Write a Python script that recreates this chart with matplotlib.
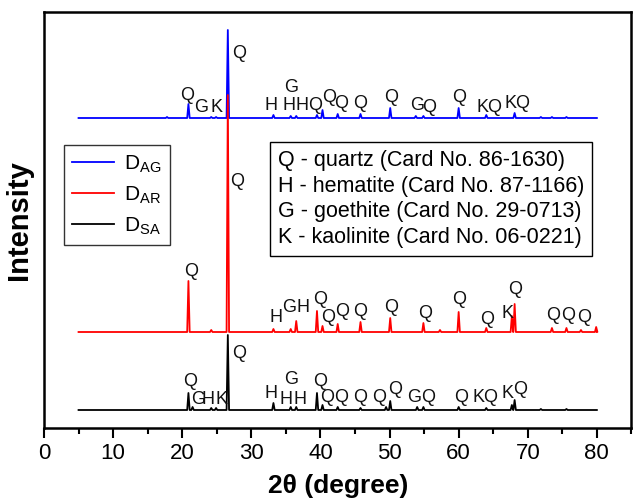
import numpy as np
import matplotlib
matplotlib.use("Agg")
import matplotlib.pyplot as plt
from matplotlib.ticker import MultipleLocator

plt.rcParams["font.family"] = ["Liberation Sans", "DejaVu Sans"]
plt.rcParams["mathtext.fontset"] = "custom"
plt.rcParams["mathtext.rm"] = "Liberation Sans"

# pozitii si inaltimi ale varfurilor (unitati arbitrare)
blue_pos = [17.8, 20.9, 24.2, 24.9, 26.6, 33.2, 35.7, 36.5, 39.5, 40.3, 42.5, 45.8,
            50.1, 53.8, 54.9, 60.0, 64.0, 68.1, 71.9, 73.5, 75.6]
blue_h = [1, 14, 1, 1, 88, 3, 2, 2, 3, 8, 4, 4, 10, 2, 2, 10, 3, 5, 1, 1, 1]
blue_off = 310

red_pos = [20.9, 24.2, 26.6, 33.2, 35.7, 36.5, 39.5, 40.3, 42.5, 45.8, 50.1, 54.9,
           57.3, 60.0, 64.0, 67.7, 68.1, 73.5, 75.6, 77.7, 79.9]
red_h = [51, 2, 237, 3, 3, 11, 21, 6, 8, 10, 14, 9, 2, 20, 4, 16, 28, 4, 4, 2, 5]
red_off = 96

black_pos = [20.9, 21.5, 24.2, 24.9, 26.6, 33.2, 35.7, 36.5, 39.5, 40.3, 42.5, 45.8,
             49.5, 50.1, 54.0, 54.9, 60.0, 64.0, 67.7, 68.1, 71.9, 75.6]
black_h = [17, 3, 2, 2, 75, 7, 3, 3, 17, 5, 3, 2, 3, 9, 3, 3, 3, 2, 5, 10, 1, 1]
black_off = 18

# etichete de faza: (x, y, text)
blue_labels = [(20.7, 333, "Q"), (22.7, 321, "G"), (25.0, 321, "K"), (28.3, 375, "Q"),
               (32.9, 322, "H"), (35.7, 341, "G"), (35.4, 322, "H"), (37.4, 322, "H"),
               (39.3, 322, "Q"), (41.2, 331, "Q"), (43.0, 324, "Q"), (45.8, 324, "Q"),
               (50.2, 330, "Q"), (54.0, 322, "G"), (55.8, 321, "Q"), (60.0, 330, "Q"),
               (63.5, 321, "K"), (65.2, 321, "Q"), (67.5, 325, "K"), (69.2, 325, "Q")]
red_labels = [(21.3, 157, "Q"), (27.9, 246, "Q"), (33.5, 110, "H"), (35.4, 120, "G"),
              (37.5, 121, "H"), (40.0, 129, "Q"), (41.1, 111, "Q"), (43.2, 117, "Q"),
              (45.8, 117, "Q"), (50.2, 121, "Q"), (55.1, 115, "Q"), (60.0, 128, "Q"),
              (64.1, 109, "Q"), (67.1, 115, "K"), (68.2, 138, "Q"), (73.6, 113, "Q"),
              (75.9, 113, "Q"), (78.2, 110, "Q")]
black_labels = [(21.1, 47, "Q"), (22.3, 28, "G"), (23.7, 28, "H"), (25.7, 28, "K"),
                (28.3, 75, "Q"), (32.9, 35, "H"), (35.7, 48, "G"), (35.0, 28, "H"),
                (37.1, 28, "H"), (39.9, 46, "Q"), (40.9, 30, "Q"), (43.0, 30, "Q"),
                (45.8, 30, "Q"), (48.5, 30, "Q"), (50.8, 38, "Q"), (53.5, 31, "G"),
                (55.6, 31, "Q"), (60.3, 31, "Q"), (62.9, 30, "K"), (64.5, 30, "Q"),
                (67.1, 35, "K"), (68.9, 38, "Q")]

legend_names = [r"D$_{\mathrm{AG}}$", r"D$_{\mathrm{AR}}$", r"D$_{\mathrm{SA}}$"]
card_lines = ["Q - quartz (Card No. 86-1630)",
              "H - hematite (Card No. 87-1166)",
              "G - goethite (Card No. 29-0713)",
              "K - kaolinite (Card No. 06-0221)"]


def pattern(pos, h, off, w=0.18):
    xs, ys = [5.0], [off]
    for p, v in zip(pos, h):
        xs += [p - w, p, p + w]
        ys += [off, off + v, off]
    xs.append(80.0)
    ys.append(off)
    return np.array(xs), np.array(ys)


fig = plt.figure(figsize=(6.33, 5.0), dpi=100)
ax = fig.add_axes([0.0695, 0.144, 0.928, 0.832])

for pos, h, off, col, name in [(blue_pos, blue_h, blue_off, "#0000ff", legend_names[0]),
                               (red_pos, red_h, red_off, "#ff0000", legend_names[1]),
                               (black_pos, black_h, black_off, "black", legend_names[2])]:
    x, y = pattern(pos, h, off)
    ax.plot(x, y, color=col, lw=1.3, label=name)

for labels in (blue_labels, red_labels, black_labels):
    for lx, ly, t in labels:
        ax.text(lx, ly, t, fontsize=13, ha="center", va="center", color="#111111")

ax.set_xlim(0, 85)
ax.set_ylim(0, 416)
ax.xaxis.set_major_locator(MultipleLocator(10))
ax.xaxis.set_minor_locator(MultipleLocator(5))
ax.set_yticks([])
ax.tick_params(axis="x", which="major", direction="out", length=7, width=1.5,
               labelsize=16, pad=4)
ax.tick_params(axis="x", which="minor", direction="out", length=4, width=1.5)
for s in ax.spines.values():
    s.set_linewidth(1.8)

ax.set_xlabel("2θ (degree)", fontsize=19, fontweight="bold", labelpad=7)
ax.set_ylabel("Intensity", fontsize=21, fontweight="bold", labelpad=8)

leg = ax.legend(loc="upper left", bbox_to_anchor=(64 / 633, 1 - 145 / 500),
                bbox_transform=fig.transFigure, fontsize=15, handlelength=2.0,
                frameon=True, fancybox=False, edgecolor="black", borderpad=0.4,
                borderaxespad=0, labelspacing=0.45, handletextpad=0.5)
leg.get_frame().set_linewidth(1.0)

ax.text(278 / 633, 1 - 199 / 500, "\n".join(card_lines), transform=fig.transFigure,
        fontsize=15.5, va="center", ha="left", linespacing=1.3,
        bbox=dict(boxstyle="square,pad=0.35", fc="white", ec="black", lw=1.0))

fig.savefig("out.png", dpi=100)
